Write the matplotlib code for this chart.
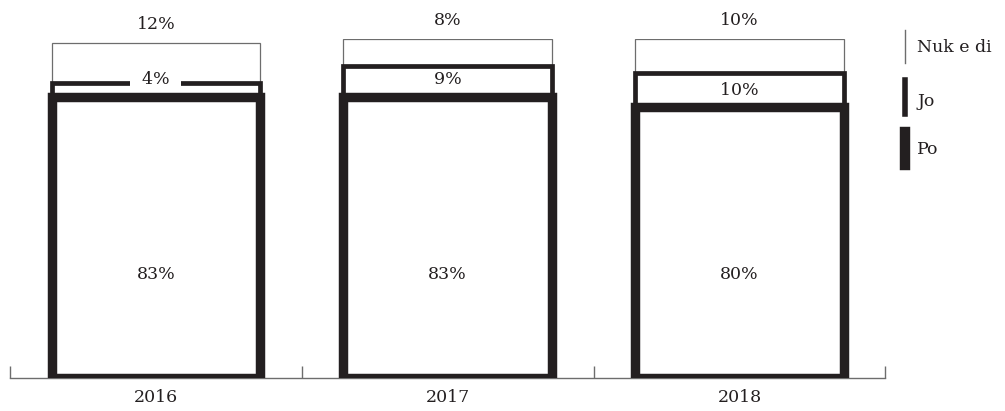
import numpy as np
import matplotlib as mpl
mpl.use('Agg')
import matplotlib.pyplot as plt

plt.rcParams["font.family"] = "DejaVu Serif"

# data
years = ['2016', '2017', '2018']
po = [83, 83, 80]
jo = [4, 9, 10]
nuk = [12, 8, 10]

dark = '#231f20'
grey = '#6d6d6d'
fontsize = 12.5

fig = plt.figure(figsize=(10.05, 4.11), dpi=100)
ax = fig.add_axes([0.00995, 0.0803, 0.871, 0.824])

x = np.arange(len(years))
po = np.array(po)
jo = np.array(jo)
nuk = np.array(nuk)
width = 0.715

# stacked bars, white fill, edge thickness tells the series apart
ax.bar(x, nuk, width, bottom=po + jo, facecolor='white', edgecolor=grey, linewidth=0.9, zorder=2)
ax.bar(x, jo, width, bottom=po, facecolor='white', edgecolor=dark, linewidth=3.4, zorder=3)
ax.bar(x, po, width, facecolor='white', edgecolor=dark, linewidth=6.8, zorder=4)

# value labels
for i in range(len(years)):
    ax.text(x[i], 30.5, '{}%'.format(po[i]), ha='center', va='center',
            fontsize=fontsize, color=dark, zorder=6)
    jo_y = max(po[i] + jo[i] / 2., po[i] + 5)
    ax.text(x[i], jo_y, '  {}%  '.format(jo[i]), ha='center', va='center',
            fontsize=fontsize, color=dark, zorder=6,
            bbox=dict(facecolor='white', edgecolor='none', pad=0.5))
    ax.text(x[i], po[i] + jo[i] + nuk[i] + 5.5, '{}%'.format(nuk[i]), ha='center',
            va='center', fontsize=fontsize, color=dark, zorder=6)

ax.set_xlim(-0.5, len(years) - 0.5)
ax.set_ylim(0, 100)
ax.set_xticks(x)
ax.set_xticklabels(years, fontsize=fontsize, color=dark)
ax.tick_params(axis='x', which='major', length=0, pad=8)
ax.set_xticks(np.arange(-0.5, len(years)), minor=True)
ax.tick_params(axis='x', which='minor', direction='in', length=9, width=1, color=grey)
ax.set_yticks([])
for s in ['top', 'right', 'left']:
    ax.spines[s].set_visible(False)
ax.spines['bottom'].set_color(grey)
ax.spines['bottom'].set_linewidth(1)
ax.patch.set_visible(False)

# legend drawn by hand
H = 411.
W = 1005.
leg = [('Nuk e di', grey, 1.0, 30, 63, 48),
       ('Jo', dark, 4.0, 80, 114, 101),
       ('Po', dark, 7.5, 132, 165, 150)]
for label, col, lw, y0, y1, yt in leg:
    fig.add_artist(plt.Line2D([905 / W, 905 / W], [1 - y0 / H, 1 - y1 / H],
                              color=col, linewidth=lw, transform=fig.transFigure))
    fig.text(917 / W, 1 - yt / H, label, ha='left', va='center', fontsize=fontsize, color=dark)

plt.savefig('out.png', dpi=100)
